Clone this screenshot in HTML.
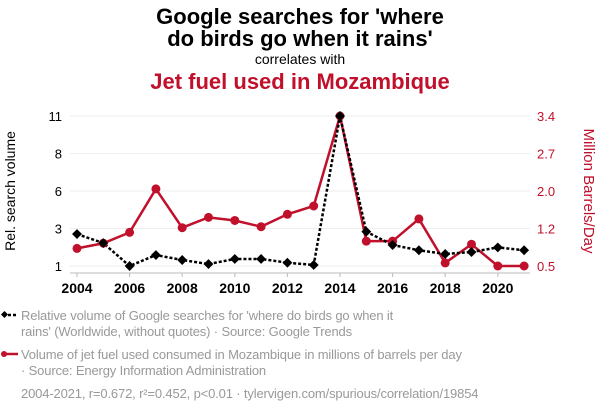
<!DOCTYPE html>
<html><head><meta charset="utf-8"><style>
body{margin:0;width:600px;height:414px;background:#fff;font-family:"Liberation Sans",sans-serif;overflow:hidden}
</style></head><body>
<svg id="chart" width="600" height="414" xmlns="http://www.w3.org/2000/svg">
<text x="300" y="24" text-anchor="middle" font-size="22" font-weight="bold" fill="#000">Google searches for 'where</text>
<text x="300" y="46" text-anchor="middle" font-size="22" font-weight="bold" fill="#000">do birds go when it rains'</text>
<text x="300" y="64" text-anchor="middle" font-size="14" fill="#000">correlates with</text>
<text x="300" y="89" text-anchor="middle" font-size="22" font-weight="bold" fill="#c0102b">Jet fuel used in Mozambique</text>
<g id="grid"></g><g id="axes"></g><g id="marks"></g>
<text transform="translate(15,191) rotate(-90)" text-anchor="middle" font-size="14" fill="#000">Rel. search volume</text>
<text transform="translate(584,191) rotate(90)" text-anchor="middle" font-size="15" fill="#c0102b">Million Barrels/Day</text>
<g font-size="13" letter-spacing="-0.15">
<line x1="3" y1="315" x2="18" y2="315" stroke="#000" stroke-width="2.5" stroke-dasharray="3,2"/>
<rect x="2" y="312" width="5" height="5" transform="rotate(45 4.5 314.5)" fill="#000"/>
<text x="21" y="320" fill="#999">Relative volume of Google searches for 'where do birds go when it</text>
<text x="21" y="336" fill="#999">rains' (Worldwide, without quotes) · Source: Google Trends</text>
</g>
<g font-size="13" letter-spacing="-0.15">
<line x1="3" y1="354" x2="18" y2="354" stroke="#c0102b" stroke-width="2.5"/>
<circle cx="4" cy="354" r="3" fill="#c0102b"/>
<text x="21" y="359" fill="#999">Volume of jet fuel used consumed in Mozambique in millions of barrels per day</text>
<text x="21" y="375" fill="#999">· Source: Energy Information Administration</text>
</g>
<text x="21" y="398" font-size="13" letter-spacing="-0.15" fill="#999">2004-2021, r=0.672, r²=0.452, p&lt;0.01 · tylervigen.com/spurious/correlation/19854</text>
</svg>
<script>
const years=[2004,2005,2006,2007,2008,2009,2010,2011,2012,2013,2014,2015,2016,2017,2018,2019,2020,2021];
const searches=[3.13,2.53,1.0,1.73,1.4,1.13,1.47,1.47,1.22,1.07,11,3.29,2.4,2.05,1.8,1.93,2.24,2.05];
const jetFuel=[0.84,0.94,1.15,1.99,1.24,1.44,1.38,1.26,1.5,1.66,3.4,0.98,0.98,1.41,0.56,0.92,0.5,0.5];
const leftTicks=[1,3.5,6,8.5,11];
const leftTickLabels=["1","3","6","8","11"];
const rightTicks=[0.5,1.225,1.95,2.675,3.4];
const rightTickLabels=["0.5","1.2","2.0","2.7","3.4"];
const xTicks=[2004,2006,2008,2010,2012,2014,2016,2018,2020];
const NS="http://www.w3.org/2000/svg";
const X=y=>77+(y-2004)*26.3;
const YL=v=>266-(v-1)*15;
const YR=v=>266-(v-0.5)*150/2.9;
function mk(t,a,p){const e=document.createElementNS(NS,t);for(const k in a)e.setAttribute(k,a[k]);p.appendChild(e);return e;}
const grid=document.getElementById('grid'),axes=document.getElementById('axes'),marks=document.getElementById('marks');
leftTicks.forEach((v,i)=>{
 const g=mk('line',{x1:70,x2:530,y1:YL(v),y2:YL(v),stroke:'#eee','stroke-width':1},grid);
 
 
 const t=mk('text',{x:62,y:YL(v)+5,'text-anchor':'end','font-size':13,fill:'#000'},axes);t.textContent=leftTickLabels[i];
 
 
});
rightTicks.forEach((v,i)=>{
 const t=mk('text',{x:537,y:YR(v)+5,'font-size':13,fill:'#c0102b'},axes);t.textContent=rightTickLabels[i];
 
 
});
const ax=mk('line',{x1:70,x2:530,y1:273,y2:273,stroke:'#bbb','stroke-width':1},axes);


xTicks.forEach(y=>{
 mk('line',{x1:X(y),x2:X(y),y1:273,y2:277,stroke:'#bbb'},axes);
 const t=mk('text',{x:X(y),y:293,'text-anchor':'middle','font-size':14,'font-weight':'bold',fill:'#000'},axes);t.textContent=y;
 
 
});
const rp=mk('polyline',{points:years.map((y,i)=>X(y)+','+YR(jetFuel[i])).join(' '),fill:'none',stroke:'#c0102b','stroke-width':2.5},marks);


const bp=mk('polyline',{points:years.map((y,i)=>X(y)+','+YL(searches[i])).join(' '),fill:'none',stroke:'#000','stroke-width':2.5,'stroke-dasharray':'3,2'},marks);


years.forEach((y,i)=>{
 const c=mk('circle',{cx:X(y),cy:YR(jetFuel[i]),r:4.5,fill:'#c0102b'},marks);
 
 
});
years.forEach((y,i)=>{
 const cx=X(y),cy=YL(searches[i]);
 const d=mk('rect',{x:cx-3.5,y:cy-3.5,width:7,height:7,fill:'#000',transform:`rotate(45 ${cx} ${cy})`},marks);
 
 
});
</script>
</body></html>
